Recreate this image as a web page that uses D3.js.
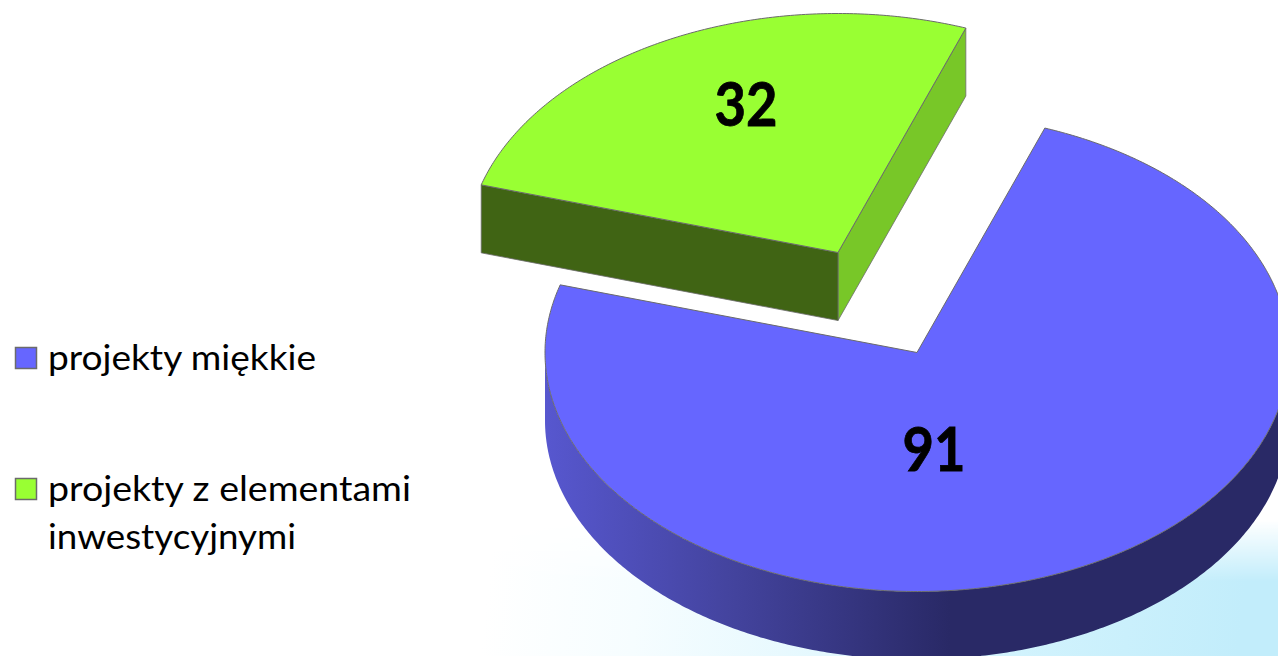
<!DOCTYPE html>
<html><head><meta charset="utf-8">
<script src="https://cdn.jsdelivr.net/npm/d3@7/dist/d3.min.js"></script>
<style>html,body{margin:0;padding:0;background:#fff;overflow:hidden}svg{display:block}</style>
</head><body><svg id="c" width="1278" height="656"></svg>
<script>
const categories = ["projekty miękkie", "projekty z elementami"];
const legendExtra = ["", "inwestycyjnymi"];
const values = [91, 32];
const topColors = ["#6666ff", "#99ff33"];

const W = 1278, H = 656, RX = 372, RY = 239, DEPTH = 68;
const centers = [[917, 352.5], [838, 252.5]];
const startDeg = 20.1;

const svg = d3.select("#c");
const defs = svg.append("defs");

// soft background wash at the lower right
const wash = defs.append("linearGradient").attr("id", "wash")
  .attr("gradientUnits", "userSpaceOnUse").attr("x1", 490).attr("y1", 560).attr("x2", 1240).attr("y2", 640);
wash.append("stop").attr("offset", 0).attr("stop-color", "#ffffff");
wash.append("stop").attr("offset", 0.2).attr("stop-color", "#f6fdff");
wash.append("stop").attr("offset", 0.7).attr("stop-color", "#d2f3fd");
wash.append("stop").attr("offset", 1).attr("stop-color", "#c2edfb");
const washFade = defs.append("linearGradient").attr("id", "washFade").attr("x1", 0).attr("y1", 0).attr("x2", 0).attr("y2", 1);
washFade.append("stop").attr("offset", 0).attr("stop-color", "#000");
washFade.append("stop").attr("offset", 0.45).attr("stop-color", "#fff");
defs.append("mask").attr("id", "washMask").attr("maskUnits", "userSpaceOnUse")
  .attr("x", 0).attr("y", 0).attr("width", W).attr("height", H)
  .append("rect").attr("x", 0).attr("y", 520).attr("width", W).attr("height", 136).attr("fill", "url(#washFade)");
svg.append("rect").attr("width", W).attr("height", H).attr("fill", "#fff");
svg.append("rect").attr("x", 0).attr("y", 520).attr("width", W).attr("height", 136)
  .attr("fill", "url(#wash)").attr("mask", "url(#washMask)");

// wall shading of the blue slice
const wg = defs.append("linearGradient").attr("id", "wallBlue")
  .attr("gradientUnits", "userSpaceOnUse").attr("x1", 545).attr("y1", 0).attr("x2", 950).attr("y2", 0);
wg.append("stop").attr("offset", 0).attr("stop-color", "#5757cf");
wg.append("stop").attr("offset", 0.45).attr("stop-color", "#44449f");
wg.append("stop").attr("offset", 1).attr("stop-color", "#292966");

const pie = d3.pie().sort(null).startAngle(startDeg * Math.PI / 180).endAngle(startDeg * Math.PI / 180 + 2 * Math.PI);
const slices = pie(values);

const sx = d3.scaleLinear().domain([-1, 1]).range([-RX, RX]);
const sy = d3.scaleLinear().domain([-1, 1]).range([-RY, RY]);
const line = d3.line();

function arcPts(a0, a1, cx, cy) {
  const n = Math.max(2, Math.ceil(Math.abs(a1 - a0) / 0.01));
  return d3.range(n + 1).map(i => {
    const a = a0 + (a1 - a0) * i / n;
    return [cx + sx(Math.sin(a)), cy + sy(-Math.cos(a))];
  });
}
const stroke = "#6b6b6b";

function drawSlice(i, walls) {
  const s = slices[i], [cx, cy] = centers[i];
  const g = svg.append("g");
  walls(g, s, cx, cy);
  g.append("path").attr("d", line([[cx, cy], ...arcPts(s.startAngle, s.endAngle, cx, cy)]) + "Z")
    .attr("fill", topColors[i]).attr("stroke", stroke).attr("stroke-width", 1).attr("stroke-linejoin", "round");
}

// blue slice: only the outer rim is visible
drawSlice(0, (g, s, cx, cy) => {
  const a0 = Math.PI / 2, a1 = 1.5 * Math.PI; // front half of the ellipse
  const rim = arcPts(a0 - 0.2, a1, cx, cy);
  const low = rim.map(p => [p[0], p[1] + DEPTH]).reverse();
  g.append("path").attr("d", line([...rim, ...low]) + "Z").attr("fill", "url(#wallBlue)");
});

// green slice: two cut faces
drawSlice(1, (g, s, cx, cy) => {
  const a = arcPts(s.startAngle, s.startAngle, cx, cy)[0];
  const b = arcPts(s.endAngle, s.endAngle, cx, cy)[0];
  const face = (p, fill) => g.append("path")
    .attr("d", line([[cx, cy], p, [p[0], p[1] + DEPTH], [cx, cy + DEPTH]]) + "Z")
    .attr("fill", fill).attr("stroke", stroke).attr("stroke-width", 0.8).attr("stroke-linejoin", "round");
  face(b, "#78c728");
  face(a, "#406414");
});

// value labels
const labelFont = "Lato, 'Open Sans', sans-serif";
const labelPos = [[934, 471], [746, 126]];
values.forEach((v, i) => {
  svg.append("text").attr("x", labelPos[i][0]).attr("y", labelPos[i][1]).attr("text-anchor", "middle")
    .attr("font-family", labelFont).attr("font-weight", 700).attr("font-size", 62)
    .attr("stroke", "#000").attr("stroke-width", 0.8)
    .attr("textLength", 63).attr("lengthAdjust", "spacingAndGlyphs").attr("fill", "#000").text(v);
});

// legend
const legendY = [358, 489];
const legendWidths = [268, 363];
const extraWidths = [0, 248];
const legendSize = 35;
categories.forEach((c, i) => {
  svg.append("rect").attr("x", 15.5).attr("y", legendY[i] - 10.5).attr("width", 21).attr("height", 21)
    .attr("fill", topColors[i]).attr("stroke", "#6b6b6b").attr("stroke-width", 1.5);
  svg.append("text").attr("x", 48).attr("y", legendY[i] + 12)
    .attr("font-family", labelFont).attr("font-size", legendSize).attr("fill", "#000")
    .attr("textLength", legendWidths[i]).attr("lengthAdjust", "spacingAndGlyphs").text(c);
  if (legendExtra[i]) svg.append("text").attr("x", 48).attr("y", legendY[i] + 60)
    .attr("font-family", labelFont).attr("font-size", legendSize).attr("fill", "#000")
    .attr("textLength", extraWidths[i]).attr("lengthAdjust", "spacingAndGlyphs").text(legendExtra[i]);
});
</script></body></html>
